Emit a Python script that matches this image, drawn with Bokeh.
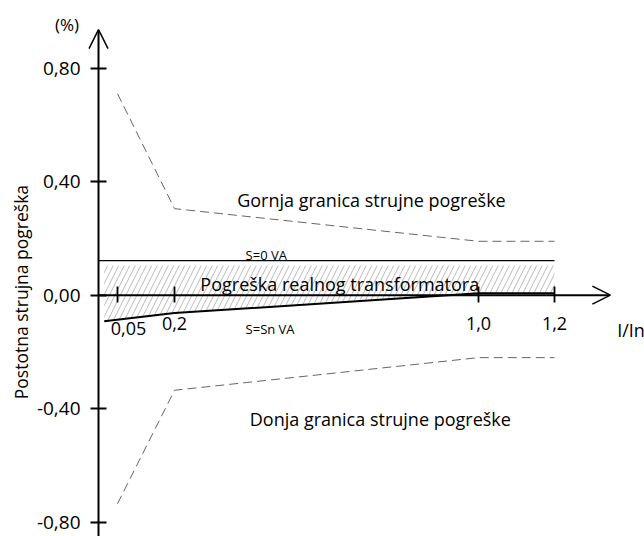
from bokeh.plotting import figure
from bokeh.models import (Range1d, LinearAxis, FixedTicker, Label, Arrow, OpenHead)
from bokeh.embed import file_html
from bokeh.resources import INLINE
import math

# ---- data ----
x_limits = [0.05, 0.2, 1.0, 1.2]
upper_limit = [0.71, 0.305, 0.19, 0.19]
lower_limit = [-0.735, -0.335, -0.22, -0.22]

s0_x = [0.0, 1.2]
s0_y = [0.122, 0.122]

sn_x = [0.015, 0.2, 1.0, 1.2]
sn_y = [-0.092, -0.063, 0.007, 0.007]

y_ticks = [-0.8, -0.4, 0.0, 0.4, 0.8]
y_tick_labels = ["-0,80", "-0,40", "0,00", "0,40", "0,80"]
x_ticks = [0.05, 0.2, 1.0, 1.2]
x_tick_labels = ["0,05", "0,2", "1,0", "1,2"]

FONT = "Open Sans"

# pixel mapping: x=0 at 98 px, 380 px/unit; y=0 at 294.7 px, 283.75 px/unit
p = figure(width=644, height=536, output_backend="svg", toolbar_location=None,
           x_range=Range1d(-0.2579, 1.4368), y_range=Range1d(-0.8504, 1.0386),
           x_axis_type=None, y_axis_type=None, min_border=0)
p.outline_line_color = None
p.xgrid.visible = False
p.ygrid.visible = False

# hatched region between S=Sn and S=0 lines
p.varea(x=sn_x, y1=sn_y, y2=[0.105] * len(sn_x),
        fill_alpha=0, hatch_pattern="/", hatch_color="#8a8a8a",
        hatch_weight=0.6, hatch_scale=11)

# limit lines
p.line(x_limits, upper_limit, line_color="#666666", line_width=1, line_dash="9 5")
p.line(x_limits, lower_limit, line_color="#666666", line_width=1, line_dash="9 5")

# S=0 VA and S=Sn VA
p.line(s0_x, s0_y, line_color="black", line_width=1.3)
p.line(sn_x, sn_y, line_color="black", line_width=2)

# axes (ticks and labels)
yax = LinearAxis(fixed_location=0, ticker=FixedTicker(ticks=y_ticks),
                 major_label_overrides={t: l for t, l in zip(y_ticks, y_tick_labels)})
yax.axis_line_color = None
yax.major_tick_in = 8
yax.major_tick_out = 8
yax.major_tick_line_width = 1.8
yax.minor_tick_line_color = None
yax.major_label_standoff = 10
yax.major_label_text_font = FONT
yax.major_label_text_font_size = "19px"
yax.major_label_text_color = "black"
p.add_layout(yax, "left")

xax = LinearAxis(fixed_location=0, ticker=FixedTicker(ticks=x_ticks),
                 major_label_overrides={0.05: "", 0.2: x_tick_labels[1],
                                        1.0: x_tick_labels[2], 1.2: x_tick_labels[3]})
xax.axis_line_color = None
xax.major_tick_in = 9
xax.major_tick_out = 7
xax.major_tick_line_width = 1.8
xax.minor_tick_line_color = None
xax.major_label_standoff = 15
xax.major_label_text_font = FONT
xax.major_label_text_font_size = "18px"
xax.major_label_text_color = "black"
p.add_layout(xax, "below")

# axis lines with arrows
p.add_layout(Arrow(end=OpenHead(size=19, line_width=1.5), x_start=0, y_start=-0.86,
                   x_end=0, y_end=0.936, line_width=2))
p.add_layout(Arrow(end=OpenHead(size=18, line_width=1.5), x_start=0, y_start=0,
                   x_end=1.347, y_end=0, line_width=2))

def lab(x, y, text, size="18px", align="left", baseline="alphabetic", angle=0):
    p.add_layout(Label(x=x, y=y, text=text, text_font=FONT, text_font_size=size,
                       text_align=align, text_baseline=baseline, angle=angle,
                       text_color="black"))

lab(0.079, -0.118, x_tick_labels[0], align="center")
lab(-0.083, 0.955, "(%)", size="17px", align="center", baseline="middle")
lab(-0.205, 0.011, "Postotna strujna pogreška", size="17.5px", align="center",
    baseline="middle", angle=math.pi / 2)
lab(0.365, 0.334, "Gornja granica strujne pogreške")
lab(0.387, 0.1424, "S=0 VA", size="13px")
lab(0.268, 0.04, "Pogreška realnog transformatora")
lab(0.387, -0.118, "S=Sn VA", size="13px")
lab(0.398, -0.438, "Donja granica strujne pogreške")
lab(1.365, -0.122, "I/In")

open("out.html", "w").write(file_html(p, INLINE))
